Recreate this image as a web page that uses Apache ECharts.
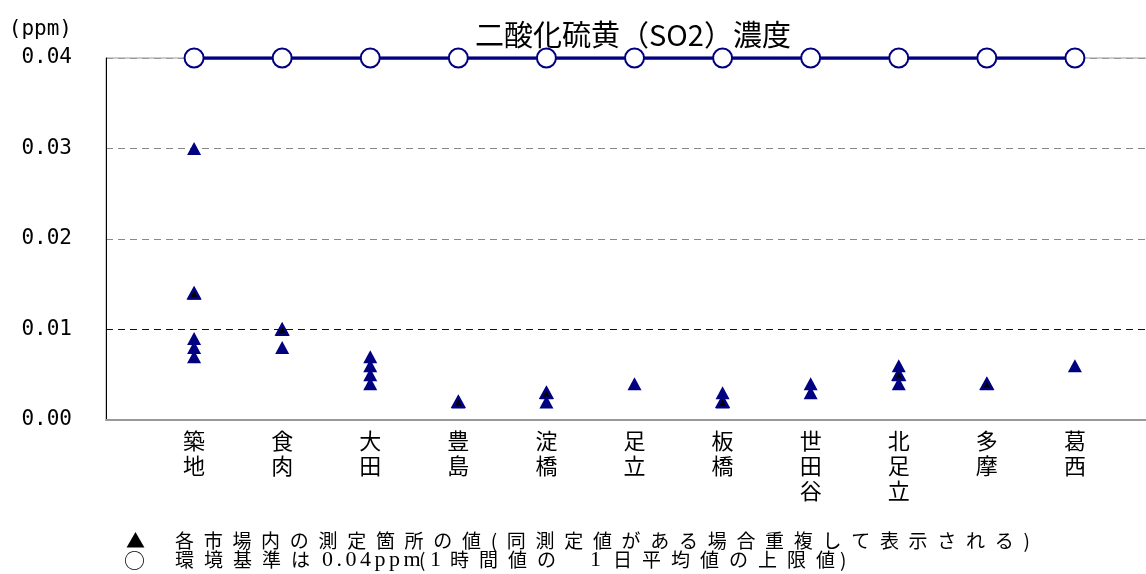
<!DOCTYPE html>
<html>
<head>
<meta charset="utf-8">
<script src="https://cdn.jsdelivr.net/npm/echarts@6/dist/echarts.min.js"></script>
<style>
  html, body { margin: 0; padding: 0; background: #fff; }
  #chart { width: 1146px; height: 574px; }
</style>
</head>
<body>
<div id="chart"></div>
<script>
// Markets (x axis) and the SO2 values measured at the sites inside each market.
// Repeated values are listed twice: coinciding sites overlap on the chart.
const markets = ['築地', '食肉', '大田', '豊島', '淀橋', '足立', '板橋', '世田谷', '北足立', '多摩', '葛西'];
const siteValues = [
  [0.030, 0.014, 0.014, 0.009, 0.008, 0.007],
  [0.010, 0.010, 0.008],
  [0.007, 0.006, 0.005, 0.004],
  [0.002, 0.002],
  [0.003, 0.003, 0.002],
  [0.004],
  [0.003, 0.002, 0.002],
  [0.004, 0.003],
  [0.006, 0.005, 0.005, 0.004],
  [0.004, 0.004],
  [0.006]
];
// Environmental standard (daily mean of hourly values, upper limit)
const standardValues = [0.04, 0.04, 0.04, 0.04, 0.04, 0.04, 0.04, 0.04, 0.04, 0.04, 0.04];
const yTickLabels = ['0.00', '0.01', '0.02', '0.03', '0.04'];
const yUnit = '(ppm)';
const titleText = '二酸化硫黄（SO2）濃度';
const noteSite = '各市場内の測定箇所の値(同測定値がある場合重複して表示される)';
const noteStdParts = ['環境基準は', '0.04ppm', '(', '1', '時間値の', '1', '日平均値の上限値', ')'];

// one empty slot on each side of the market list
const categories = [''].concat(markets, ['']);

const NAVY = '#000080';
const JP = '"Noto Sans CJK JP", "Noto Sans", sans-serif';
const SERIF = '"Liberation Serif", "DejaVu Serif", serif';

const siteData = [];
markets.forEach((m, i) => {
  const seen = {};
  siteValues[i].forEach(v => {
    const key = v.toFixed(3);
    if (seen[key]) {
      siteData.push({ value: [m, v], symbolSize: [11, 10],
        itemStyle: { color: '#000', borderColor: NAVY, borderWidth: 2.5 } });
    } else {
      seen[key] = true;
      siteData.push({ value: [m, v] });
    }
  });
});
const standardData = markets.map((m, i) => [m, standardValues[i]]);

// wider tracking for the note lines under the chart
const letterSpacing = {};
letterSpacing[noteSite] = 9.7;
letterSpacing[noteStdParts[0]] = 10;
letterSpacing[noteStdParts[4]] = 10;
letterSpacing[noteStdParts[6]] = 10;
letterSpacing[noteStdParts[1]] = 3.5;

const baseFillText = CanvasRenderingContext2D.prototype.fillText;
CanvasRenderingContext2D.prototype.fillText = function (text, x, y, maxWidth) {
  this.letterSpacing = (letterSpacing[text] || 0) + 'px';
  return maxWidth === undefined
    ? baseFillText.call(this, text, x, y)
    : baseFillText.call(this, text, x, y, maxWidth);
};

function noteText(text, x, y, size, family) {
  return {
    type: 'text', x: x, y: y,
    style: { text: text, font: size + 'px ' + family, fill: '#000',
      textAlign: 'left', textVerticalAlign: 'middle' }
  };
}

const stdX = [175, 322, 419, 430, 450, 590, 613, 840];
const stdSerif = [false, true, false, true, false, true, false, false];

const chart = echarts.init(document.getElementById('chart'), null, { renderer: 'canvas' });
chart.setOption({
  animation: false,
  backgroundColor: '#fff',
  title: {
    text: titleText,
    left: 470, top: 15,
    textStyle: { fontFamily: JP, fontSize: 29, fontWeight: 'normal', color: '#000' }
  },
  grid: {
    left: 106, top: 58, width: 1057, height: 362,
    outerBoundsMode: 'none', containLabel: false,
    show: true, borderColor: '#999', borderWidth: 1, backgroundColor: 'transparent'
  },
  xAxis: {
    type: 'category',
    data: categories,
    boundaryGap: false,
    axisLine: { show: true, lineStyle: { color: '#999', width: 2 } },
    axisTick: { show: false },
    splitLine: { show: false },
    axisLabel: {
      interval: 0, margin: 8, color: '#000',
      fontFamily: JP, fontSize: 22, lineHeight: 25,
      formatter: v => v.split('').join('\n')
    }
  },
  yAxis: {
    type: 'value',
    min: 0, max: 0.04, interval: 0.01,
    name: yUnit, nameLocation: 'end', nameGap: 28,
    nameTextStyle: { fontFamily: 'DejaVu Sans Mono', fontSize: 21, color: '#000',
      align: 'right', verticalAlign: 'middle', padding: [0, 34, 0, 0] },
    axisLine: { show: true, lineStyle: { color: '#000', width: 1 } },
    axisTick: { show: false },
    axisLabel: {
      margin: 34, color: '#000', fontFamily: 'DejaVu Sans Mono', fontSize: 21,
      formatter: (v) => yTickLabels[Math.round(v * 100)]
    },
    splitLine: {
      show: true,
      lineStyle: { type: [7, 5], width: 1, color: ['#999', '#111', '#888', '#888', '#999'] }
    }
  },
  series: [
    {
      name: 'sites', type: 'scatter',
      symbol: 'triangle', symbolSize: [14, 13],
      itemStyle: { color: NAVY, opacity: 1 },
      data: siteData, z: 3
    },
    {
      name: 'standard', type: 'line',
      data: standardData,
      symbol: 'circle', symbolSize: 19, showAllSymbol: true,
      itemStyle: { color: '#fff', borderColor: NAVY, borderWidth: 2 },
      lineStyle: { color: NAVY, width: 3.5 },
      z: 4
    }
  ],
  graphic: [
    noteText('▲', 126, 541, 19, JP),
    noteText(noteSite, 175, 541, 19, JP),
    noteText('○', 124, 560, 21, JP)
  ].concat(noteStdParts.map((t, i) =>
    noteText(t, stdX[i], 560, stdSerif[i] ? 22 : 19, stdSerif[i] ? SERIF : JP)))
});
</script>
</body>
</html>
